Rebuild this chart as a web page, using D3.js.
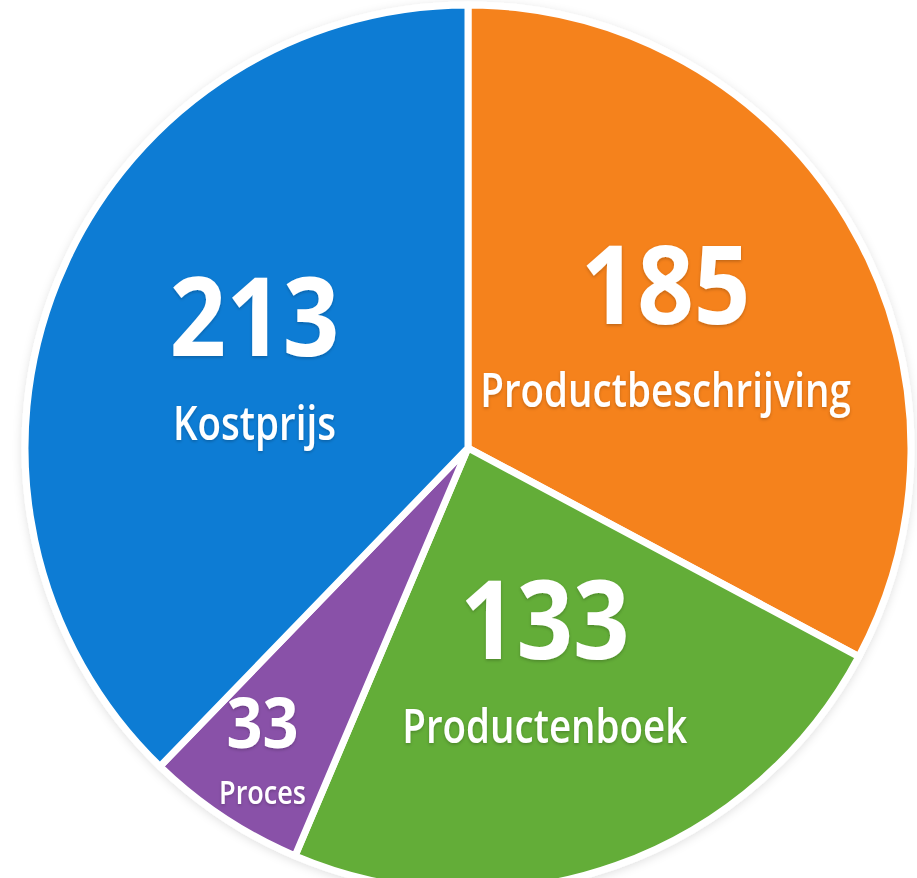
<!DOCTYPE html>
<html>
  <head>
    <meta charset="utf-8" />
    <title>Pie chart</title>
    <script src="https://d3js.org/d3.v7.min.js"></script>
    <style>
      body {
        margin: 0;
        background: #ffffff;
        font-family: "Open Sans", "Noto Sans", sans-serif;
      }
      svg {
        display: block;
      }
    </style>
  </head>
  <body>
    <svg width="917" height="878"></svg>

    <script>
      // data, clockwise from 12 o'clock
      const categories = ["Productbeschrijving", "Productenboek", "Proces", "Kostprijs"];
      const values = [185, 133, 33, 213];
      const colors = ["#f5821f", "#63ad37", "#8951a8", "#0b7cd4"];

      const svg = d3.select("svg");
      const cx = 468, cy = 448, radius = 443;

      const data = categories.map((c, i) => ({ name: c, value: values[i], color: colors[i] }));

      const defs = svg.append("defs");
      const shadow = defs.append("filter").attr("id", "shadow")
        .attr("x", "-10%").attr("y", "-10%").attr("width", "120%").attr("height", "120%");
      shadow.append("feDropShadow")
        .attr("dx", 0).attr("dy", 2).attr("stdDeviation", 5)
        .attr("flood-color", "#000").attr("flood-opacity", 0.12);

      const txtShadow = defs.append("filter").attr("id", "txtShadow");
      txtShadow.append("feDropShadow")
        .attr("dx", 0).attr("dy", 1.5).attr("stdDeviation", 1.5)
        .attr("flood-color", "#000").attr("flood-opacity", 0.22);

      const g = svg.append("g").attr("transform", `translate(${cx}, ${cy})`);

      const pie = d3.pie().sort(null).value(d => d.value);
      const arc = d3.arc().innerRadius(0).outerRadius(radius);
      const arcs = pie(data);

      g.append("g").attr("filter", "url(#shadow)")
        .selectAll("path")
        .data(arcs)
        .join("path")
        .attr("d", arc)
        .attr("fill", d => d.data.color)
        .attr("stroke", "#ffffff")
        .attr("stroke-width", 7)
        .attr("stroke-linejoin", "round");

      const isSmall = d => d.endAngle - d.startAngle < 0.6;

      // small slices get their label further out where the wedge is wider
      const labelPos = d => {
        const r = radius * (isSmall(d) ? 0.84 : 0.52);
        return d3.arc().innerRadius(r).outerRadius(r).centroid(d);
      };

      const labels = g.selectAll("g.label")
        .data(arcs)
        .join("g")
        .attr("class", "label")
        .attr("filter", "url(#txtShadow)")
        .attr("transform", d => {
          const [x, y] = labelPos(d);
          return `translate(${x}, ${y})`;
        });

      labels.each(function (d) {
        const small = isSmall(d);
        const sel = d3.select(this);
        sel.append("text")
          .attr("text-anchor", "middle")
          .attr("transform", `scale(0.9, 1)`)
          .attr("y", small ? -10 : -6)
          .attr("fill", "#ffffff")
          .attr("font-weight", 700)
          .attr("font-size", small ? 70 : 110)
          .text(d.data.value);
        sel.append("text")
          .attr("text-anchor", "middle")
          .attr("transform", `scale(0.82, 1)`)
          .attr("y", small ? 46 : 78)
          .attr("fill", "#ffffff")
          .attr("font-weight", 600)
          .attr("font-size", small ? 33 : 47)
          .text(d.data.name);
      });
    </script>
  </body>
</html>
